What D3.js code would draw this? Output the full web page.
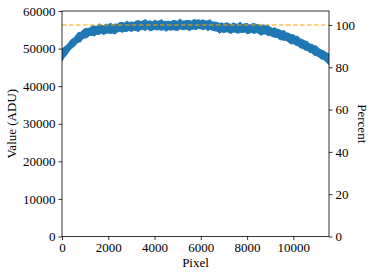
<!DOCTYPE html>
<html>
<head>
<meta charset="utf-8">
<script src="https://cdn.jsdelivr.net/npm/d3@7"></script>
<style>
  body { margin: 0; background: #fff; }
  svg text { font-family: "Liberation Serif", "DejaVu Serif", serif; fill: #000; }
</style>
</head>
<body>
<svg width="374" height="276"></svg>
<script>
// profile centre (ADU), one sample every 100 pixels, last one at the final pixel
const centre = [
  48300, 49000, 49700, 50400, 51000, 51700, 52300, 52800, 53300, 53700,
  54000, 54300, 54500, 54700, 54800, 54900, 55000, 55100, 55100, 55200,
  55200, 55300, 55300, 55400, 55500, 55600, 55700, 55700, 55800, 55900,
  55900, 56000, 56000, 56100, 56100, 56200, 56100, 56200, 56200, 56100,
  56200, 56200, 56100, 56200, 56200, 56100, 56000, 56100, 56100, 56200,
  56200, 56300, 56200, 56300, 56200, 56300, 56300, 56300, 56400, 56400,
  56400, 56300, 56300, 56200, 56200, 56100, 55900, 55700, 55600, 55600,
  55500, 55500, 55500, 55400, 55500, 55400, 55400, 55500, 55400, 55400,
  55400, 55300, 55400, 55300, 55300, 55200, 55100, 55000, 54900, 54800,
  54600, 54400, 54200, 54000, 53800, 53600, 53400, 53100, 52900, 52700,
  52400, 52100, 51800, 51500, 51200, 50900, 50600, 50200, 49900, 49600,
  49300, 48900, 48600, 48200, 47800, 47200
];
// how far the noise reaches above / below the centre at each sample
const noiseUp = [
  1600, 1400, 1200, 1200, 1400, 1050, 1150, 1500, 1000, 1250, 1350, 1100, 950, 1400, 1200, 1050, 1600, 1150, 1000, 1300,
  1200, 1450, 1050, 1150, 1000, 1350, 1250, 1100, 1500, 1050, 1200, 950, 1300, 1400, 1100, 1150, 1650, 1050, 1200, 1000,
  1350, 1100, 1250, 1500, 1000, 1150, 1300, 1050, 1400, 1200, 1100, 1600, 1150, 1050, 1300, 1200, 1000, 1450, 1150, 1250,
  1100, 1350, 1050, 1200, 1500, 1000, 1150, 1300, 1100, 1250, 1050, 1400, 1200, 1000, 1350, 1150, 1100, 1550, 1050, 1200,
  1300, 1000, 1150, 1400, 1100, 1250, 1050, 1300, 1200, 1500, 1100, 1000, 1350, 1150, 1250, 1050, 1400, 1100, 1200, 1000,
  1300, 1150, 1450, 1050, 1200, 1100, 1350, 1000, 1250, 1150, 1400, 1100, 1050, 1300, 1200, 1400
];
const noiseDown = [
  1600, 1300, 1400, 1150, 1000, 1300, 1250, 1100, 1550, 1050, 1200, 1350, 1000, 1150, 1450, 1100, 1250, 1000, 1400, 1150,
  1050, 1300, 1200, 1500, 1100, 1000, 1350, 1150, 1250, 1050, 1400, 1100, 1200, 1600, 1050, 1150, 1300, 1000, 1450, 1200,
  1100, 1250, 1050, 1350, 1150, 1500, 1000, 1200, 1100, 1300, 1400, 1050, 1150, 1250, 1000, 1550, 1200, 1100, 1350, 1050,
  1150, 1300, 1000, 1450, 1100, 1250, 1200, 1050, 1500, 1150, 1300, 1000, 1200, 1400, 1100, 1050, 1350, 1200, 1150, 1000,
  1450, 1250, 1100, 1300, 1050, 1200, 1550, 1150, 1000, 1350, 1100, 1250, 1200, 1050, 1400, 1300, 1150, 1000, 1250, 1500,
  1100, 1200, 1050, 1350, 1150, 1300, 1100, 1250, 1000, 1400, 1200, 1150, 1350, 1100, 1250, 1500
];
const lastPixel = 11540;
const reference = 56280;   // level of the dashed line = 100 %
const xTicks = [0, 2000, 4000, 6000, 8000, 10000];
const yTicks = [0, 10000, 20000, 30000, 40000, 50000, 60000];
const pctTicks = [0, 20, 40, 60, 80, 100];

const svg = d3.select("svg");
const margin = { top: 11, right: 45, bottom: 39.5, left: 62 };
const width = 374 - margin.left - margin.right;
const height = 276 - margin.top - margin.bottom;

const pixel = centre.map((_, i) => (i === centre.length - 1 ? lastPixel : i * 100));

const x = d3.scaleLinear().domain([0, lastPixel]).range([0, width]);
const y = d3.scaleLinear().domain([0, 60000]).range([height, 0]);
const yPct = d3.scaleLinear().domain([0, 60000 / reference * 100]).range([height, 0]);

const g = svg.append("g").attr("transform", `translate(${margin.left},${margin.top})`);

g.append("clipPath").attr("id", "clip")
  .append("rect").attr("width", width).attr("height", height);

// noise envelope of the trace
const band = d3.area()
  .x((d, i) => x(pixel[i]))
  .y0((d, i) => y(d - noiseDown[i]))
  .y1((d, i) => y(d + noiseUp[i]));

g.append("path")
  .datum(centre)
  .attr("clip-path", "url(#clip)")
  .attr("d", band)
  .attr("fill", "#1f77b4")
  .attr("stroke", "#1f77b4")
  .attr("stroke-width", 1)
  .attr("stroke-linejoin", "miter");

g.append("line")
  .attr("x1", 0).attr("x2", width)
  .attr("y1", y(reference)).attr("y2", y(reference))
  .attr("stroke", "#ffa500")
  .attr("stroke-width", 1.2)
  .attr("stroke-dasharray", "4.5,2.5");

// axes
const styleAxis = sel => {
  sel.select(".domain").remove();
  sel.selectAll(".tick line").attr("stroke", "#000").attr("stroke-width", 0.8);
  sel.selectAll(".tick text").style("font-size", "13px");
};

g.append("g")
  .attr("transform", `translate(0,${height})`)
  .call(d3.axisBottom(x).tickValues(xTicks).tickFormat(d3.format("d")).tickSize(3.5).tickPadding(3))
  .call(styleAxis);

g.append("g")
  .call(d3.axisLeft(y).tickValues(yTicks).tickFormat(d3.format("d")).tickSize(3.5).tickPadding(3))
  .call(styleAxis);

g.append("g")
  .attr("transform", `translate(${width},0)`)
  .call(d3.axisRight(yPct).tickValues(pctTicks).tickFormat(d3.format("d")).tickSize(3.5).tickPadding(3))
  .call(styleAxis);

g.append("rect")
  .attr("width", width).attr("height", height)
  .attr("fill", "none").attr("stroke", "#000").attr("stroke-width", 0.8);

// labels
svg.append("text")
  .attr("x", margin.left + width / 2).attr("y", 267)
  .attr("text-anchor", "middle").style("font-size", "13px")
  .text("Pixel");

svg.append("text")
  .attr("transform", `translate(16,${margin.top + height / 2}) rotate(-90)`)
  .attr("text-anchor", "middle").style("font-size", "13px")
  .text("Value (ADU)");

svg.append("text")
  .attr("transform", `translate(358,${margin.top + height / 2}) rotate(90)`)
  .attr("text-anchor", "middle").style("font-size", "13px")
  .text("Percent");
</script>
</body>
</html>
